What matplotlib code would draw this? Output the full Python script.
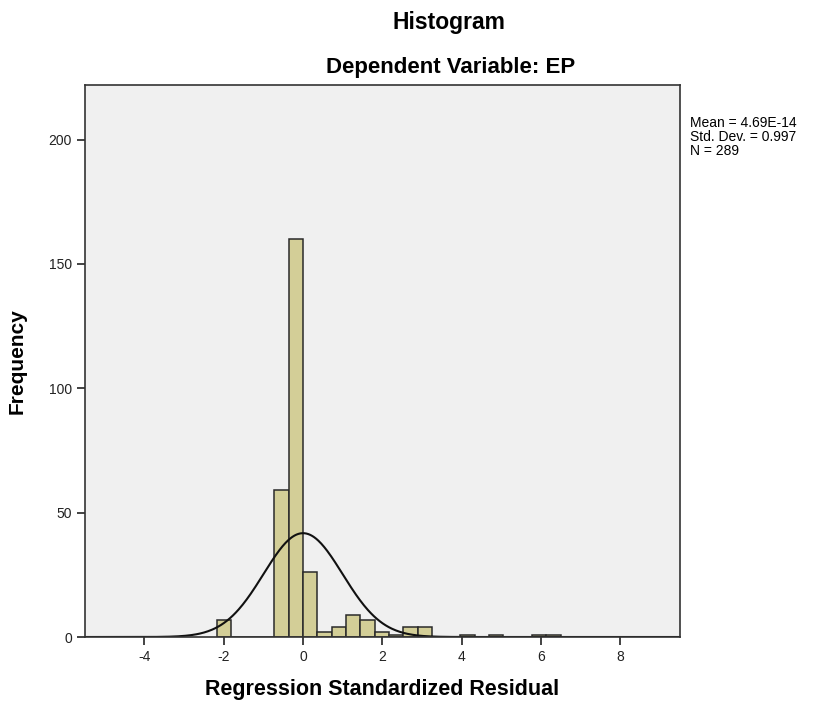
import numpy as np
import matplotlib
matplotlib.use("Agg")
import matplotlib.pyplot as plt

# histogram data (SPSS style)
bin_start = -2.167
bin_width = 0.361
counts = [7, 0, 0, 0, 59, 160, 26, 2, 4, 9, 7, 2, 1, 4, 4, 0, 0, 1, 0, 1, 0, 0, 1, 1]

mean = 4.69e-14
std_dev = 0.997
n_obs = 289

x_ticks = [-4, -2, 0, 2, 4, 6, 8]
y_ticks = [0, 50, 100, 150, 200]

plt.rcParams["font.family"] = ["Liberation Sans", "DejaVu Sans"]
plt.rcParams["axes.unicode_minus"] = False

edges = bin_start + bin_width * np.arange(len(counts) + 1)
centers = (edges[:-1] + edges[1:]) / 2

fig = plt.figure(figsize=(8.14, 7.07), dpi=100)
ax = fig.add_axes([0.1044, 0.099, 0.7306, 0.781])
ax.set_facecolor("#f0f0f0")

ax.hist(centers, bins=edges, weights=counts, color="#d3ce97",
        edgecolor="#2a2a2a", linewidth=1.1)

# normal curve scaled to counts
xs = np.linspace(-5.5, 9.5, 600)
pdf = np.exp(-0.5 * ((xs - mean) / std_dev) ** 2) / (std_dev * np.sqrt(2 * np.pi))
ax.plot(xs, n_obs * bin_width * pdf, color="#111111", linewidth=1.5)

ax.set_xlim(-5.5, 9.5)
ax.set_ylim(0, 222)
ax.set_xticks(x_ticks)
ax.set_yticks(y_ticks)
ax.tick_params(direction="out", length=6, width=1.2, labelsize=10, colors="#222222")
for s in ax.spines.values():
    s.set_color("#333333")
    s.set_linewidth(1.2)

ax.set_xlabel("Regression Standardized Residual", fontsize=15.5, fontweight="bold", labelpad=11)
ax.set_ylabel("Frequency", fontsize=15, fontweight="bold", labelpad=16)

fig.text(0.551, 0.968, "Histogram", ha="center", va="center", fontsize=16.5, fontweight="bold")
fig.text(0.554, 0.904, "Dependent Variable: EP", ha="center", va="center", fontsize=16, fontweight="bold")

fig.text(690 / 814, 1 - 116 / 707,
         "Mean = 4.69E-14\nStd. Dev. = 0.997\nN = 289",
         ha="left", va="top", fontsize=10, linespacing=1.0)

fig.savefig("out.png", dpi=100, facecolor="white")
